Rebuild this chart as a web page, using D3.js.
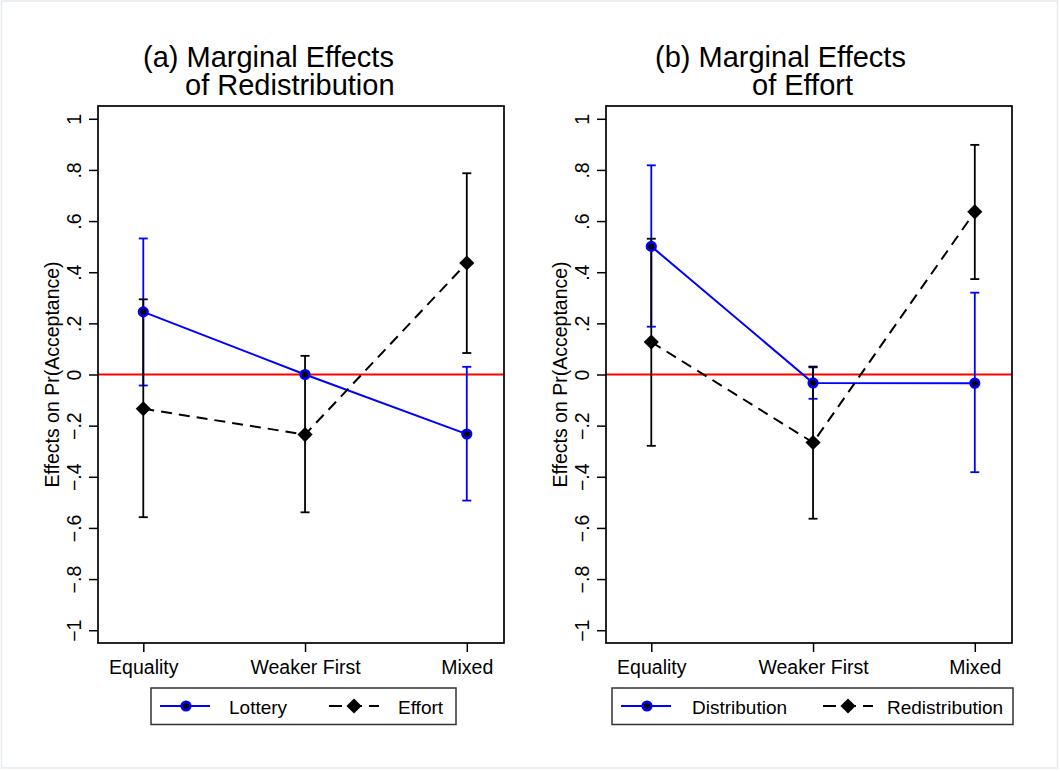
<!DOCTYPE html>
<html>
<head>
<meta charset="utf-8">
<script src="https://cdnjs.cloudflare.com/ajax/libs/d3/7.8.5/d3.min.js"></script>
<style>
  body { margin: 0; background: #fff; }
  svg { display: block; font-family: "Liberation Sans", Arial, sans-serif; }
</style>
</head>
<body>
<svg id="chart" width="1060" height="771"></svg>
<script>
'use strict';

/* Data */
const categories = ['Equality', 'Weaker First', 'Mixed'];
const yTicks = [-1, -0.8, -0.6, -0.4, -0.2, 0, 0.2, 0.4, 0.6, 0.8, 1];

// panel (a)
const lotteryEst = [0.245, 0.0, -0.233];
const lotteryLo  = [-0.043, 0.0, -0.493];
const lotteryHi  = [0.532, 0.0, 0.030];
const effortEst  = [-0.134, -0.235, 0.436];
const effortLo   = [-0.558, -0.539, 0.084];
const effortHi   = [0.294, 0.073, 0.787];

// panel (b)
const distributionEst = [0.501, -0.033, -0.034];
const distributionLo  = [0.187, -0.095, -0.382];
const distributionHi  = [0.818, 0.028, 0.320];
const redistEst = [0.127, -0.266, 0.636];
const redistLo  = [-0.279, -0.564, 0.373];
const redistHi  = [0.531, 0.031, 0.898];

const panels = [
    { left: 98, title: ['(a) Marginal Effects', 'of Redistribution'], titleX: [45, 87],
      series: [
        { name: 'Lottery', est: lotteryEst, lo: lotteryLo, hi: lotteryHi, kind: 'blue' },
        { name: 'Effort', est: effortEst, lo: effortLo, hi: effortHi, kind: 'black' }
      ],
      legend: { x0: 151, x1: 456, keys: [160, 329], texts: [229, 398] } },
    { left: 606, title: ['(b) Marginal Effects', 'of Effort'], titleX: [49, 146],
      series: [
        { name: 'Distribution', est: distributionEst, lo: distributionLo, hi: distributionHi, kind: 'blue' },
        { name: 'Redistribution', est: redistEst, lo: redistLo, hi: redistHi, kind: 'black' }
      ],
      legend: { x0: 612, x1: 1013, keys: [621, 823], texts: [692, 887] } }
];

/* Set up */
const svg = d3.select('#chart');
const plotW = 406, plotTop = 106, plotH = 537;
const blue = '#0000ff';
const fmt = v => {
    if (Math.abs(v) < 1e-9) return '0';
    let s = d3.format('.1f')(v).replace('0.', '.');
    return s.replace(/\.0$/, '');
};

svg.append('rect')
    .attr('x', 1.5).attr('y', 1).attr('width', 1056).attr('height', 767)
    .attr('fill', '#fff').attr('stroke', '#e3ebf0').attr('stroke-width', 1.5);

const diamond = d3.symbol().type(d3.symbolSquare).size(115);

panels.forEach(p => {
    const x = d3.scaleLinear().domain([0.72, 3.23]).range([0, plotW]);
    const y = d3.scaleLinear().domain([-1.05, 1.05]).range([plotH, 0]);
    const g = svg.append('g').attr('transform', `translate(${p.left},${plotTop})`);

    // titles
    p.title.forEach((t, i) => {
        svg.append('text')
            .attr('x', p.left + p.titleX[i]).attr('y', i === 0 ? 67 : 95)
            .attr('font-size', 29).attr('fill', '#000').text(t);
    });

    // zero line
    g.append('line')
        .attr('x1', 0).attr('x2', plotW).attr('y1', y(0)).attr('y2', y(0))
        .attr('stroke', '#ff0000').attr('stroke-width', 2);

    // axes
    const yAxis = g.append('g').call(d3.axisLeft(y).tickValues(yTicks).tickSize(9).tickFormat(fmt));
    yAxis.selectAll('text')
        .attr('x', 0).attr('dy', 0).attr('text-anchor', 'middle')
        .attr('transform', 'translate(-17,0) rotate(-90)')
        .attr('font-size', 19.5).attr('font-family', 'Liberation Sans, Arial, sans-serif').attr('fill', '#000');
    const xAxis = g.append('g').attr('transform', `translate(0,${plotH})`)
        .call(d3.axisBottom(x).tickValues([1, 2, 3]).tickSize(9).tickFormat((d, i) => categories[i]));
    xAxis.selectAll('text')
        .attr('y', 30.5).attr('dy', 0)
        .attr('font-size', 19.5).attr('font-family', 'Liberation Sans, Arial, sans-serif').attr('fill', '#000');
    [yAxis, xAxis].forEach(a => {
        a.select('.domain').remove();
        a.selectAll('line').attr('stroke', '#000').attr('stroke-width', 1.5);
    });

    g.append('rect')
        .attr('width', plotW).attr('height', plotH)
        .attr('fill', 'none').attr('stroke', '#000').attr('stroke-width', 1.7);

    // y title
    g.append('text')
        .attr('transform', `translate(-39,${plotH / 2}) rotate(-90)`)
        .attr('text-anchor', 'middle').attr('font-size', 19.5).attr('fill', '#000')
        .text('Effects on Pr(Acceptance)');

    const colorOf = s => s.kind === 'blue' ? blue : '#000';

    // error bars
    p.series.forEach(s => {
        const c = colorOf(s);
        s.est.forEach((v, i) => {
            const cx = x(i + 1);
            g.append('line').attr('x1', cx).attr('x2', cx)
                .attr('y1', y(s.lo[i])).attr('y2', y(s.hi[i]))
                .attr('stroke', c).attr('stroke-width', 1.8);
            [s.lo[i], s.hi[i]].forEach(e => {
                g.append('line').attr('x1', cx - 4.5).attr('x2', cx + 4.5)
                    .attr('y1', y(e)).attr('y2', y(e))
                    .attr('stroke', c).attr('stroke-width', 1.8);
            });
        });
    });

    // connecting lines
    const line = d3.line().x((d, i) => x(i + 1)).y(d => y(d));
    p.series.forEach(s => {
        g.append('path').datum(s.est).attr('d', line)
            .attr('fill', 'none').attr('stroke', colorOf(s)).attr('stroke-width', 2)
            .attr('stroke-dasharray', s.kind === 'black' ? '11,7' : null);
    });

    // markers
    p.series.forEach(s => {
        s.est.forEach((v, i) => {
            if (s.kind === 'blue') {
                g.append('circle').attr('cx', x(i + 1)).attr('cy', y(v)).attr('r', 4.3)
                    .attr('fill', '#000').attr('stroke', blue).attr('stroke-width', 2.6);
            } else {
                g.append('path').attr('d', diamond)
                    .attr('transform', `translate(${x(i + 1)},${y(v)}) rotate(45)`)
                    .attr('fill', '#000');
            }
        });
    });

    // legend
    const L = p.legend, ly = 706;
    svg.append('rect').attr('x', L.x0).attr('y', 688).attr('width', L.x1 - L.x0).attr('height', 36.5)
        .attr('fill', '#fff').attr('stroke', '#333').attr('stroke-width', 1.5);
    p.series.forEach((s, k) => {
        const kx = L.keys[k], c = colorOf(s);
        svg.append('line').attr('x1', kx).attr('x2', kx + 50).attr('y1', ly).attr('y2', ly)
            .attr('stroke', c).attr('stroke-width', 2)
            .attr('stroke-dasharray', s.kind === 'black' ? '13,7' : null);
        if (s.kind === 'blue') {
            svg.append('circle').attr('cx', kx + 26).attr('cy', ly).attr('r', 4.3)
                .attr('fill', '#000').attr('stroke', blue).attr('stroke-width', 2.6);
        } else {
            svg.append('path').attr('d', diamond)
                .attr('transform', `translate(${kx + 25},${ly}) rotate(45)`).attr('fill', '#000');
        }
        svg.append('text').attr('x', L.texts[k]).attr('y', 714)
            .attr('font-size', 19).attr('fill', '#000').text(s.name);
    });
});
</script>
</body>
</html>
